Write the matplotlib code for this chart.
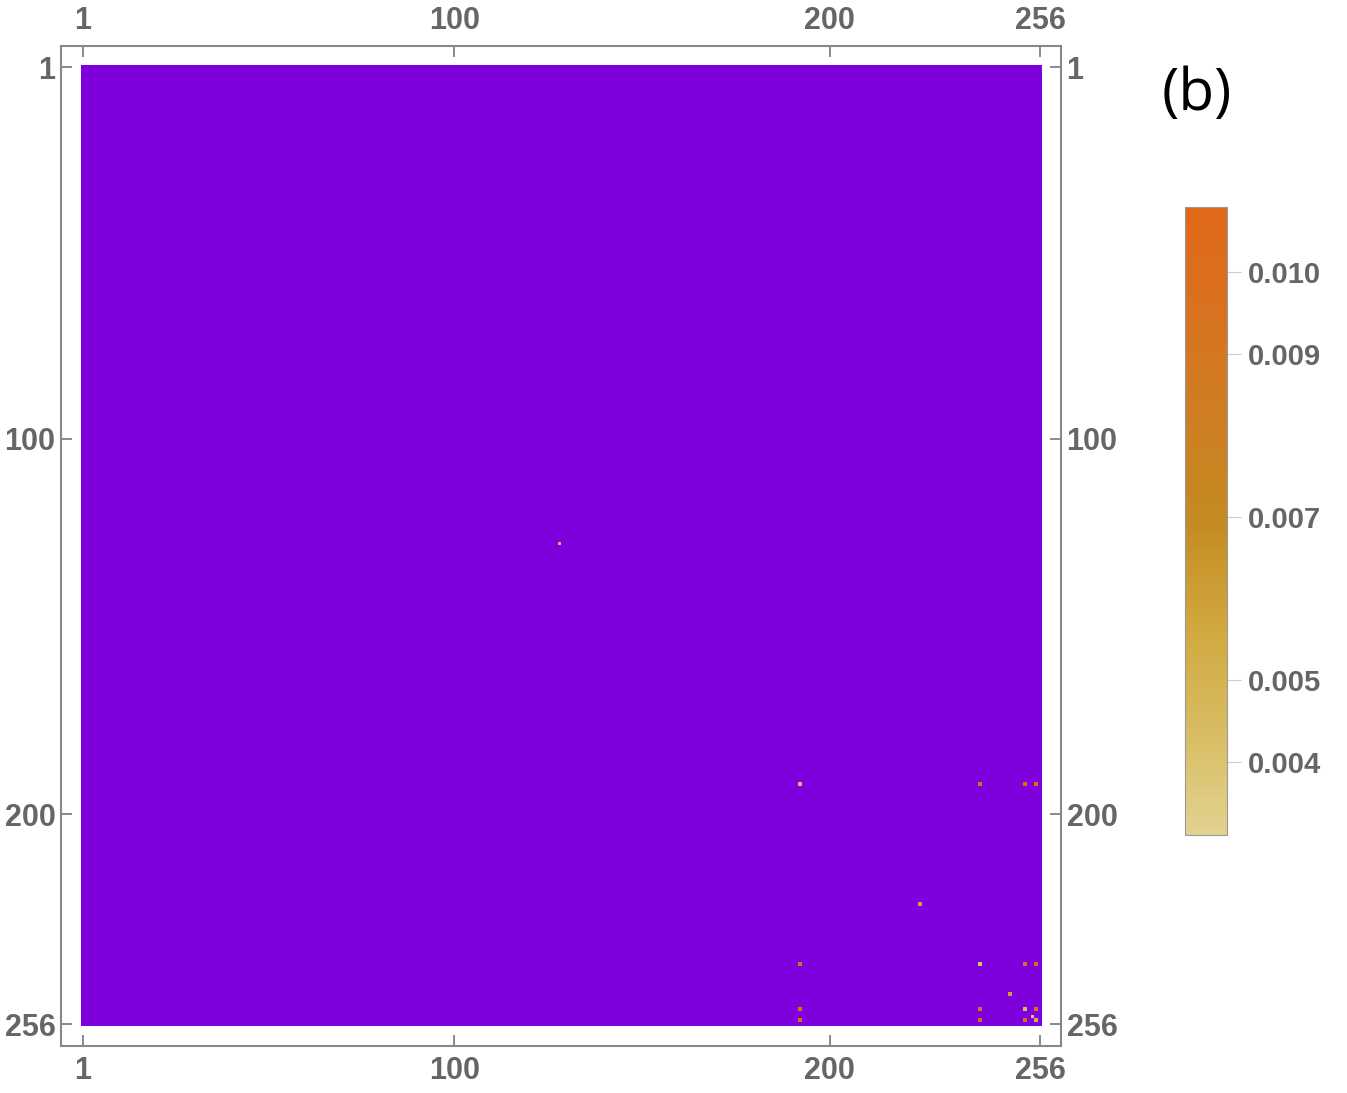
import numpy as np
import matplotlib
matplotlib.use("Agg")
import matplotlib.pyplot as plt
from matplotlib.colors import LinearSegmentedColormap

# matrix size and the few non-zero entries (1-based indices)
n = 256
diag_idx = [128, 192, 224, 240, 248, 252, 254, 255]
diag_val = [0.0047, 0.0043, 0.0058, 0.0041, 0.0060, 0.0045, 0.0039, 0.0051]
block_idx = [192, 240, 252, 255]
block_val = [
    [0.0043, 0.0104, 0.0104, 0.0104],
    [0.0104, 0.0041, 0.0104, 0.0104],
    [0.0104, 0.0104, 0.0045, 0.0104],
    [0.0104, 0.0104, 0.0104, 0.0051],
]
tick_pos = [1, 100, 200, 256]
cbar_ticks = [0.004, 0.005, 0.007, 0.009, 0.010]
vmin, vmax = 0.0031, 0.0108

tick_gray = "#666666"
zero_color = "#7E00DC"

M = np.zeros((n, n))
for i, v in zip(diag_idx, diag_val):
    M[i - 1, i - 1] = v
for a, row in zip(block_idx, block_val):
    for b, v in zip(block_idx, row):
        M[a - 1, b - 1] = v
M = np.ma.masked_equal(M, 0)

cmap = LinearSegmentedColormap.from_list(
    "sunset",
    ["#E2D290", "#D8BC62", "#D0A83E", "#C48A22", "#CE7E22", "#D87220", "#E06818"],
)
cmap.set_bad(zero_color)

fig = plt.figure(figsize=(13.47, 10.93), dpi=100)
ax = fig.add_axes([61 / 1347, 47 / 1093, 1000 / 1347, 1000 / 1093])

im = ax.imshow(M, cmap=cmap, vmin=vmin, vmax=vmax, interpolation="nearest",
               extent=(0.5, n + 0.5, n + 0.5, 0.5), aspect="auto")
ax.set_xlim(-4.8, 261.6)
ax.set_ylim(261.8, -4.6)

ax.set_xticks(tick_pos)
ax.set_yticks(tick_pos)
ax.tick_params(which="both", direction="in", length=8, width=1.2, color="#777777",
               top=True, right=True, labeltop=True, labelright=True,
               labelsize=22, labelcolor=tick_gray)
ax.tick_params(axis="x", pad=7)
ax.tick_params(axis="y", pad=4)
for lab in ax.get_xticklabels() + ax.get_yticklabels():
    lab.set_fontweight("bold")
    lab.set_family("Liberation Sans")
for sp in ax.spines.values():
    sp.set_color("#888888")
    sp.set_linewidth(1.5)

cax = fig.add_axes([1185 / 1347, 258 / 1093, 42 / 1347, 628 / 1093])
cb = fig.colorbar(im, cax=cax, ticks=cbar_ticks, format="%.3f")
cb.outline.set_edgecolor("#999999")
cb.outline.set_linewidth(0.8)
cax.tick_params(length=10, width=0.8, color="#cccccc", labelsize=21,
                labelcolor=tick_gray, pad=5)
for lab in cax.get_yticklabels():
    lab.set_fontweight("bold")
    lab.set_family("Liberation Sans")

fig.text(1197 / 1347, 1 - 95 / 1093, "(b)", fontsize=42, family="Open Sans",
         ha="center", va="center", color="black")

fig.savefig("out.png", dpi=100)
